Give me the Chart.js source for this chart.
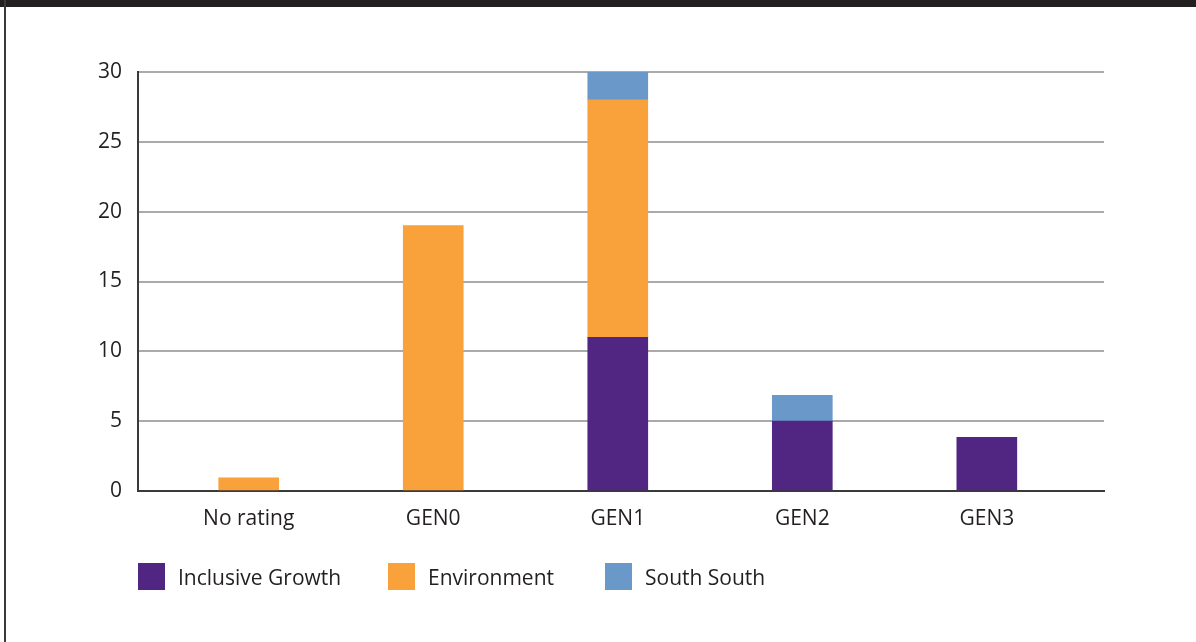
<!DOCTYPE html>
<html>
<head>
<meta charset="utf-8">
<script src="https://cdn.jsdelivr.net/npm/chart.js@4.4.1/dist/chart.umd.min.js"></script>
<style>
  html, body { margin: 0; padding: 0; background: #fff; }
  #frame { position: relative; width: 1196px; height: 642px; overflow: hidden; background: #fff; }
  #topbar { position: absolute; left: 0; top: 0; width: 1196px; height: 7px; background: #231f20; }
  #leftline { position: absolute; left: 4px; top: 0; width: 2px; height: 642px; background: #3a3839; }
  #chart { position: absolute; left: 0; top: 0; }
  #legend { position: absolute; left: 138px; top: 562px; display: flex; font-family: "Open Sans", sans-serif; font-size: 21px; color: #231f20; }
  .item { display: flex; align-items: center; }
  .item:nth-child(1) { width: 250px; }
  .item:nth-child(2) { width: 217px; }
  .box { width: 27px; height: 27px; margin-right: 13px; }
  .item span { position: relative; top: 1px; }
</style>
</head>
<body>
<div id="frame">
  <canvas id="chart" width="1196" height="642"></canvas>
  <div id="topbar"></div>
  <div id="leftline"></div>
  <div id="legend"></div>
</div>
<script>
const categories = ['No rating', 'GEN0', 'GEN1', 'GEN2', 'GEN3']
const seriesNames = ['Inclusive Growth', 'Environment', 'South South']
const inclusiveGrowth = [0, 0, 11, 5, 3.85]
const environment = [0.95, 19, 17, 0, 0]
const southSouth = [0, 0, 2, 1.85, 0]
const seriesColors = ['#512682', '#f9a13a', '#6a99c9']
const yTicks = [0, 5, 10, 15, 20, 25, 30]

const textColor = '#231f20'
const axisColor = '#3a3a3a'
const gridColor = '#aaaaaa'

function points(values) {
  return values.map((v, i) => ({ x: i, y: v === 0 ? null : v }))
}

const seriesValues = [inclusiveGrowth, environment, southSouth]

const ctx = document.getElementById('chart')

const chart = new Chart(ctx, {
  type: 'bar',
  data: {
    datasets: seriesNames.map((name, i) => ({
      label: name,
      data: points(seriesValues[i]),
      backgroundColor: seriesColors[i],
      borderWidth: 0,
      barThickness: 60
    }))
  },
  options: {
    responsive: false,
    animation: false,
    layout: {
      padding: { top: 72, right: 92, left: 0, bottom: 0 }
    },
    plugins: {
      legend: { display: false },
      tooltip: { enabled: false }
    },
    scales: {
      x: {
        type: 'linear',
        stacked: true,
        offset: false,
        min: -0.6,
        max: 4.635,
        afterBuildTicks: axis => {
          axis.ticks = categories.map((c, i) => ({ value: i }))
        },
        afterFit: axis => { axis.height = 151 },
        grid: { display: false, drawTicks: false, offset: false },
        border: { display: true, color: axisColor, width: 2 },
        ticks: {
          padding: 15,
          color: textColor,
          font: { family: 'Open Sans', size: 21 },
          callback: v => categories[v]
        }
      },
      y: {
        stacked: true,
        min: 0,
        max: 30,
        afterBuildTicks: axis => {
          axis.ticks = yTicks.map(v => ({ value: v }))
        },
        afterFit: axis => { axis.width = 138 },
        grid: {
          drawTicks: false,
          lineWidth: 2,
          color: c => c.tick && c.tick.value === 0 ? axisColor : gridColor
        },
        border: { display: true, color: axisColor, width: 2 },
        ticks: {
          padding: 16,
          color: textColor,
          font: { family: 'Open Sans', size: 21 }
        }
      }
    }
  }
})

// legend below the plot
const legend = document.getElementById('legend')
seriesNames.forEach((name, i) => {
  const item = document.createElement('div')
  item.className = 'item'
  const box = document.createElement('div')
  box.className = 'box'
  box.style.background = seriesColors[i]
  const label = document.createElement('span')
  label.textContent = name
  item.appendChild(box)
  item.appendChild(label)
  legend.appendChild(item)
})
</script>
</body>
</html>
